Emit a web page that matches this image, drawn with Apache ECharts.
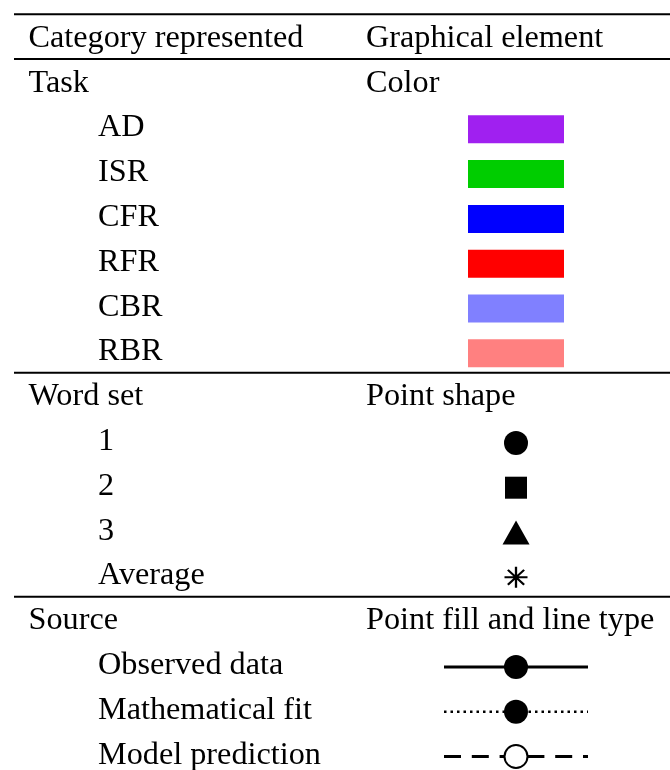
<!DOCTYPE html>
<html><head><meta charset="utf-8">
<script src="https://cdn.jsdelivr.net/npm/echarts@6/dist/echarts.min.js"></script>
<style>html,body{margin:0;padding:0;background:#fff}#c{width:670px;height:770px}</style>
</head><body><div id="c"></div><script>
// ---- data ----
const headerLabels = ['Category represented', 'Graphical element'];
const categoryNames = ['Task', 'Word set', 'Source'];
const elementNames = ['Color', 'Point shape', 'Point fill and line type'];
const taskLabels = ['AD', 'ISR', 'CFR', 'RFR', 'CBR', 'RBR'];
const taskColors = ['#A020F0', '#00CD00', '#0000FF', '#FF0000', '#8080FF', '#FF8080'];
const wordSetLabels = ['1', '2', '3', 'Average'];
const wordSetShapes = ['circle', 'square', 'triangle', 'asterisk'];
const sourceLabels = ['Observed data', 'Mathematical fit', 'Model prediction'];
const sourceLineTypes = ['solid', 'dotted', 'dashed'];
const sourcePointFills = ['filled', 'filled', 'open'];

// ---- layout ----
const W = 670, H = 770;
const ROW_PX = 44.8, FIRST_ROW_PX = 36.7;
const yMin = -FIRST_ROW_PX / ROW_PX, yMax = yMin + H / ROW_PX;
const MARK_SHIFT = 3 / ROW_PX;
const TEXT_SHIFT_PX = 2;
const TEXT_SCALE_X = 1.04;
const X_COL1 = 28.5, X_INDENT = 98, X_COL2 = 366, X_MARK = 516;
const X_RULE0 = 14, X_RULE1 = 670, X_LINE0 = 444, X_LINE1 = 588;
const FONT = '31px "Liberation Serif", "Times New Roman", serif';

const texts = [];
const rules = [-0.5];
const colorBars = [];
const shapePts = { circle: [], square: [], triangle: [], asterisk: [] };
const sourceRows = [];

texts.push([X_COL1, 0, headerLabels[0]], [X_COL2, 0, headerLabels[1]]);
rules.push(0.5);
let k = 1;
const sectionItems = [taskLabels, wordSetLabels, sourceLabels];
sectionItems.forEach((items, s) => {
  texts.push([X_COL1, k, categoryNames[s]], [X_COL2, k, elementNames[s]]);
  k++;
  items.forEach((lab, i) => {
    texts.push([X_INDENT, k, lab]);
    const y = k + MARK_SHIFT;
    if (s === 0) colorBars.push({ value: [X_MARK, y], itemStyle: { color: taskColors[i], opacity: 1 } });
    if (s === 1) shapePts[wordSetShapes[i]].push([X_MARK, y]);
    if (s === 2) sourceRows.push({ y, type: sourceLineTypes[i], fill: sourcePointFills[i] });
    k++;
  });
  if (s < sectionItems.length - 1) rules.push(k - 0.5);
});

const series = [];
// rules
rules.forEach(r => series.push({
  type: 'line', data: [[X_RULE0, r], [X_RULE1, r]], showSymbol: false, silent: true,
  lineStyle: { color: '#000', width: 2, opacity: 1 }, z: 1
}));
// text
series.push({
  type: 'custom', data: texts.map(t => [t[0], t[1]]), silent: true, z: 5,
  renderItem: (params, api) => {
    const p = api.coord([api.value(0), api.value(1)]);
    return { type: 'text', x: p[0], y: p[1] + TEXT_SHIFT_PX, scaleX: TEXT_SCALE_X,
      style: { text: texts[params.dataIndex][2], font: FONT, fill: '#000', align: 'left', verticalAlign: 'middle' } };
  }
});
const blackFill = { color: '#000', opacity: 1 };
// color bars
series.push({ type: 'scatter', data: colorBars, symbol: 'rect', symbolSize: [96, 28], silent: true, z: 3, itemStyle: { opacity: 1 } });
// shapes
series.push({ type: 'scatter', data: shapePts.circle, symbol: 'circle', symbolSize: 24, itemStyle: blackFill, silent: true, z: 3 });
series.push({ type: 'scatter', data: shapePts.square, symbol: 'rect', symbolSize: 22, itemStyle: blackFill, silent: true, z: 3 });
series.push({ type: 'scatter', data: shapePts.triangle, symbol: 'triangle', symbolSize: [27, 24], itemStyle: blackFill, silent: true, z: 3 });
series.push({ type: 'scatter', data: shapePts.asterisk, symbol: 'path://M10 0V20M0 10H20M2.93 2.93L17.07 17.07M17.07 2.93L2.93 17.07',
  symbolSize: [23, 21], itemStyle: { color: 'none', borderColor: '#000', borderWidth: 2.2, opacity: 1 }, silent: true, z: 3 });
// source lines + points
const dashFor = { solid: 'solid', dotted: [2.5, 4], dashed: [17, 10.8] };
const widthFor = { solid: 3, dotted: 2.6, dashed: 3 };
sourceRows.forEach(r => {
  series.push({ type: 'line', data: [[X_LINE0, r.y], [X_LINE1, r.y]], showSymbol: false, silent: true, z: 2,
    lineStyle: { color: '#000', width: widthFor[r.type], type: dashFor[r.type], cap: 'butt', opacity: 1 } });
  series.push({ type: 'scatter', data: [[X_MARK, r.y]], symbol: 'circle', symbolSize: r.fill === 'open' ? 23 : 24,
    itemStyle: r.fill === 'open' ? { color: '#fff', borderColor: '#000', borderWidth: 2, opacity: 1 } : blackFill, silent: true, z: 4 });
});

const chart = echarts.init(document.getElementById('c'), null, { renderer: 'canvas' });
chart.setOption({
  animation: false,
  backgroundColor: '#fff',
  grid: { left: 0, right: 0, top: 0, bottom: 0 },
  xAxis: { type: 'value', min: 0, max: W, show: false },
  yAxis: { type: 'value', min: yMin, max: yMax, inverse: true, show: false },
  series
});
</script></body></html>
